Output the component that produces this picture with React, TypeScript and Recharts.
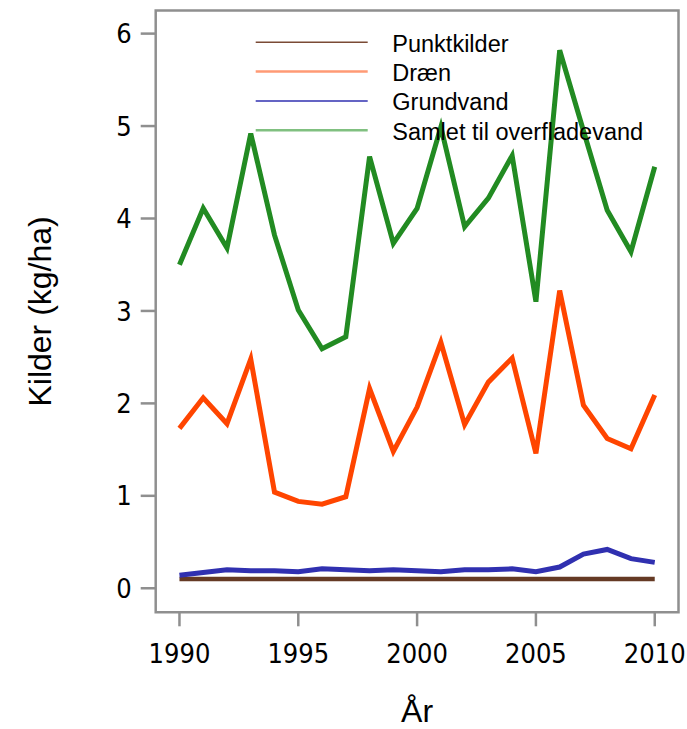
import { LineChart, Line, XAxis, YAxis, ReferenceArea, Legend } from 'recharts'

const years = [
  1990, 1991, 1992, 1993, 1994, 1995, 1996, 1997, 1998, 1999, 2000,
  2001, 2002, 2003, 2004, 2005, 2006, 2007, 2008, 2009, 2010,
]
const punktkilder = [
  0.1, 0.1, 0.1, 0.1, 0.1, 0.1, 0.1, 0.1, 0.1, 0.1, 0.1,
  0.1, 0.1, 0.1, 0.1, 0.1, 0.1, 0.1, 0.1, 0.1, 0.1,
]
const draen = [
  1.73, 2.06, 1.78, 2.48, 1.04, 0.94, 0.91, 0.99, 2.16, 1.48, 1.96,
  2.66, 1.77, 2.23, 2.49, 1.46, 3.22, 1.98, 1.62, 1.51, 2.09,
]
const grundvand = [
  0.14, 0.17, 0.2, 0.19, 0.19, 0.18, 0.21, 0.2, 0.19, 0.2, 0.19,
  0.18, 0.2, 0.2, 0.21, 0.18, 0.23, 0.37, 0.42, 0.32, 0.28,
]
const samlet = [
  3.5, 4.11, 3.68, 4.92, 3.82, 3.01, 2.59, 2.72, 4.67, 3.73, 4.11,
  4.99, 3.91, 4.22, 4.68, 3.1, 5.82, 4.95, 4.09, 3.64, 4.56,
]
const xTicks = [1990, 1995, 2000, 2005, 2010]
const yTicks = [0, 1, 2, 3, 4, 5, 6]

const data = years.map((year, i) => ({
  year,
  punktkilder: punktkilder[i],
  draen: draen[i],
  grundvand: grundvand[i],
  samlet: samlet[i],
}))

const FRAME = '#8f8f8f'
const TICK_FONT = "'Liberation Sans Narrow', 'DejaVu Sans Condensed', sans-serif"
const TITLE_FONT = "'Liberation Sans', Arial, sans-serif"

// legend entries: label + thin lighter line
const legendItems = [
  { label: 'Punktkilder', color: '#7a4a35', width: 1.5 },
  { label: 'Dræn', color: '#ff9a75', width: 2.5 },
  { label: 'Grundvand', color: '#3030b0', width: 1.5 },
  { label: 'Samlet til overfladevand', color: '#80c080', width: 2.5 },
]

function LegendBox() {
  return (
    <svg width={430} height={125} style={{ display: 'block' }}>
      {legendItems.map((item, i) => {
        const y = 14.3 + i * 29.3
        return (
          <g key={item.label}>
            <line x1={5.7} x2={117.7} y1={y} y2={y} stroke={item.color} strokeWidth={item.width} />
            <text x={142.3} y={y + 9.4} fontFamily={TITLE_FONT} fontSize={23.5} fill="#000">
              {item.label}
            </text>
          </g>
        )
      })}
    </svg>
  )
}

export default function App() {
  return (
    <div style={{ position: 'absolute', left: 0, top: 0, background: '#fff' }}>
      <LineChart
        width={687}
        height={729}
        data={data}
        margin={{ top: 10.5, right: 8.5, bottom: 0, left: 0 }}
      >
        <XAxis
          dataKey="year"
          type="number"
          domain={[1989, 2011]}
          ticks={xTicks}
          allowDataOverflow
          height={116.7}
          axisLine={false}
          tickSize={14}
          tickMargin={18}
          tickLine={{ stroke: FRAME, strokeWidth: 2.5 }}
          tick={{ fill: '#000', fontSize: 27, fontFamily: TICK_FONT }}
          label={{
            value: 'År',
            position: 'insideBottom',
            offset: 7,
            style: { fill: '#000', fontSize: 32, fontFamily: TITLE_FONT },
          }}
        />
        <YAxis
          type="number"
          domain={[-0.26, 6.25]}
          ticks={yTicks}
          allowDataOverflow
          width={155.7}
          axisLine={false}
          tickSize={15}
          tickMargin={9}
          tickLine={{ stroke: FRAME, strokeWidth: 2.5 }}
          tick={{ fill: '#000', fontSize: 27, fontFamily: TICK_FONT }}
          label={{
            value: 'Kilder (kg/ha)',
            angle: -90,
            position: 'insideLeft',
            offset: 40,
            style: { fill: '#000', fontSize: 32, fontFamily: TITLE_FONT, textAnchor: 'middle' },
          }}
        />
        <ReferenceArea
          x1={1989}
          x2={2011}
          y1={-0.26}
          y2={6.25}
          fill="none"
          stroke={FRAME}
          strokeWidth={2.5}
        />
        <Legend
          layout="vertical"
          align="center"
          verticalAlign="middle"
          wrapperStyle={{ left: 250, top: 28, width: 430 }}
          content={() => <LegendBox />}
        />
        <Line dataKey="punktkilder" name="Punktkilder" stroke="#653a24" strokeWidth={4.5} dot={false} isAnimationActive={false} />
        <Line dataKey="draen" name="Dræn" stroke="#ff4500" strokeWidth={5} dot={false} isAnimationActive={false} />
        <Line dataKey="grundvand" name="Grundvand" stroke="#3030b0" strokeWidth={5} dot={false} isAnimationActive={false} />
        <Line dataKey="samlet" name="Samlet til overfladevand" stroke="#228b22" strokeWidth={5} dot={false} isAnimationActive={false} />
      </LineChart>
    </div>
  )
}
